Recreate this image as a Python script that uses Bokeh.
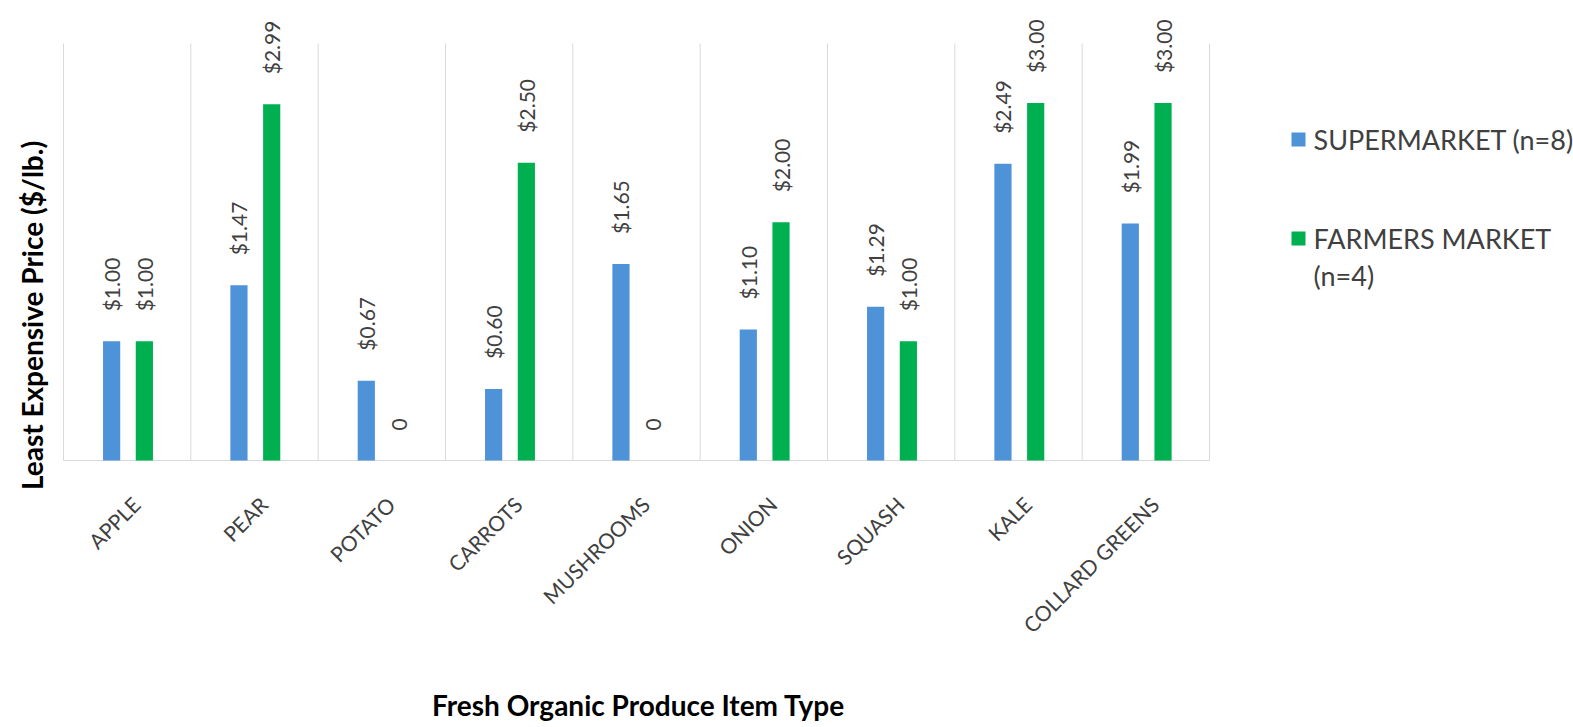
import math

from bokeh.core.properties import value
from bokeh.embed import file_html
from bokeh.models import ColumnDataSource, Label, Range1d
from bokeh.plotting import figure
from bokeh.resources import INLINE
from bokeh.transform import dodge

# Least expensive organic price per pound, by store type
items = ["APPLE", "PEAR", "POTATO", "CARROTS", "MUSHROOMS", "ONION",
         "SQUASH", "KALE", "COLLARD GREENS"]
supermarket = [1.00, 1.47, 0.67, 0.60, 1.65, 1.10, 1.29, 2.49, 1.99]
farmers_market = [1.00, 2.99, 0.00, 2.50, 0.00, 2.00, 1.00, 3.00, 3.00]

series_names = ["SUPERMARKET (n=8)", "FARMERS MARKET", "(n=4)"]
x_title = "Fresh Organic Produce Item Type"
y_title = "Least Expensive Price ($/lb.)"
y_max = 3.5


def price_label(v):
    return "0" if v == 0 else f"${v:.2f}"


BLUE = "#4E93D8"
GREEN = "#00B050"
TEXT = "#404040"
GRID = "#D9D9D9"
FONT = "Lato"

# canvas and plot-area geometry (pixels)
W, H = 1573, 727
AREA_L, AREA_R, AREA_T, AREA_B = 63, 1209, 43, 460
px_per_cat = (AREA_R - AREA_L) / len(items)
px_per_usd = (AREA_B - AREA_T) / y_max

x_start = -AREA_L / px_per_cat
x_end = len(items) + (W - AREA_R) / px_per_cat
y_start = -(H - AREA_B) / px_per_usd
y_end = y_max + AREA_T / px_per_usd


def to_x(px):
    return x_start + px / px_per_cat


def to_y(py):
    return y_end - py / px_per_usd


src = ColumnDataSource(dict(
    item=items,
    pos=[i + 0.5 for i in range(len(items))],
    sm=supermarket,
    fm=farmers_market,
    sm_lbl=[price_label(v) for v in supermarket],
    fm_lbl=[price_label(v) for v in farmers_market],
))

p = figure(
    x_range=Range1d(x_start, x_end), y_range=Range1d(y_start, y_end),
    width=W, height=H, x_axis_type=None, y_axis_type=None,
    output_backend="svg", toolbar_location=None,
    min_border=0,
)
p.outline_line_color = None
p.background_fill_color = "white"
p.border_fill_color = "white"

# vertical separators between categories and the category axis line
edges = list(range(len(items) + 1))
p.segment(x0=edges, y0=[0] * len(edges), x1=edges, y1=[y_max] * len(edges),
          line_color=GRID, line_width=1)
p.segment(x0=[0], y0=[0], x1=[len(items)], y1=[0], line_color=GRID,
          line_width=1.2)

BAR_W = 0.135
OFF_SM, OFF_FM = -0.122, 0.135
p.vbar(x=dodge("pos", OFF_SM), top="sm", width=BAR_W, source=src,
       fill_color=BLUE, line_color=None)
p.vbar(x=dodge("pos", OFF_FM), top="fm", width=BAR_W, source=src,
       fill_color=GREEN, line_color=None)

# value labels above each bar
for field, lbl, off in (("sm", "sm_lbl", OFF_SM), ("fm", "fm_lbl", OFF_FM)):
    p.text(x=dodge("pos", off), y=field, text=lbl, source=src,
           angle=math.pi / 2, y_offset=-30, text_align="left",
           text_baseline="middle", text_font=value(FONT),
           text_font_size="21px", text_color=TEXT)

# slanted category labels
p.text(x="pos", y=0, text="item", source=src, angle=math.pi / 4,
       x_offset=9, y_offset=40, text_align="right", text_baseline="middle",
       text_font=value(FONT), text_font_size="21px", text_color=TEXT)

# legend
p.scatter(x=[to_x(1298), to_x(1298)], y=[to_y(139), to_y(238)],
          marker="square", size=14, fill_color=[BLUE, GREEN], line_color=None)
p.text(x=[to_x(1313)] * 3, y=[to_y(139), to_y(238), to_y(275)],
       text=series_names, text_align="left", text_baseline="middle",
       text_font=value(FONT), text_font_size="27px", text_color=TEXT)

# axis titles
p.add_layout(Label(x=to_x(638), y=to_y(704), text=x_title,
                   text_align="center", text_baseline="middle",
                   text_font=FONT, text_font_style="bold",
                   text_font_size="28px", text_color="black"))
p.add_layout(Label(x=to_x(31), y=to_y(315), text=y_title,
                   angle=math.pi / 2, text_align="center",
                   text_baseline="middle", text_font=FONT,
                   text_font_style="bold", text_font_size="28px",
                   text_color="black"))

open("out.html", "w").write(file_html(p, INLINE))
